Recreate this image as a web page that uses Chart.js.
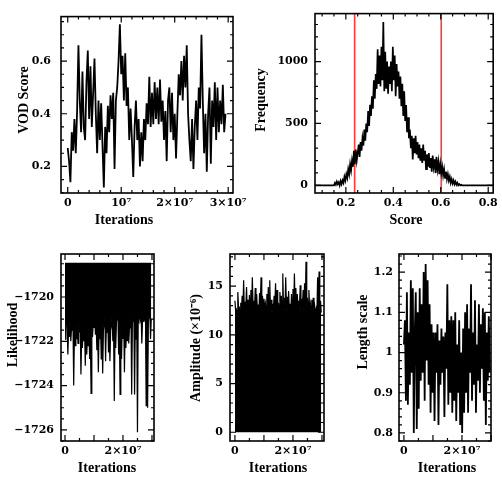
<!DOCTYPE html>
<html>
<head>
<meta charset="utf-8">
<script src="https://cdn.jsdelivr.net/npm/chart.js"></script>
<style>
html,body{margin:0;padding:0;background:#fff;}
#wrap{position:relative;width:502px;height:479px;background:#fff;overflow:hidden;}
canvas{position:absolute;}
</style>
</head>
<body>
<div id="wrap">
<canvas id="c1" width="251" height="240" style="left:0;top:0"></canvas>
<canvas id="c2" width="251" height="240" style="left:251px;top:0"></canvas>
<canvas id="c3" width="167" height="239" style="left:0;top:240px"></canvas>
<canvas id="c4" width="167" height="239" style="left:167px;top:240px"></canvas>
<canvas id="c5" width="168" height="239" style="left:334px;top:240px"></canvas>
</div>
<script>
// ---------- DATA ----------
// Panel 1: VOD score trace (iteration step 2.5e5)
const vodStep = 2.5e5;
const vodScore = [0.27,0.22,0.14,0.33,0.26,0.38,0.25,0.41,0.66,0.45,0.33,0.56,0.35,0.30,0.52,0.64,0.38,0.58,0.35,0.48,0.61,0.40,0.25,0.45,0.30,0.44,0.28,0.12,0.35,0.25,0.43,0.33,0.47,0.38,0.48,0.19,0.45,0.50,0.60,0.74,0.55,0.62,0.45,0.63,0.43,0.50,0.30,0.42,0.30,0.16,0.35,0.45,0.30,0.38,0.20,0.33,0.22,0.38,0.30,0.44,0.36,0.54,0.35,0.48,0.36,0.52,0.38,0.50,0.36,0.53,0.37,0.45,0.30,0.41,0.22,0.45,0.50,0.33,0.48,0.30,0.40,0.23,0.40,0.55,0.47,0.60,0.45,0.62,0.50,0.66,0.40,0.30,0.22,0.38,0.19,0.35,0.45,0.30,0.50,0.42,0.70,0.45,0.25,0.40,0.18,0.40,0.50,0.21,0.45,0.35,0.52,0.30,0.50,0.33,0.45,0.36,0.51,0.33,0.40];

// Panel 2: score histogram (bins start 0.150, width 0.004), zero outside
const histStart = 0.150, histStep = 0.004;
const histDomain = [0.07, 0.82];
const histCounts = [0,20,5,30,10, 25,0,35,10,40, 20,70,40,90,60, 130,90,170,120,200, 150,280,170,290,200,
 260,330,230,350,280, 380,320,450,360,500, 430,600,480,650,560, 720,620,850,700,900, 780,1100,820,1050,800,
 1120,850,1320,760,1080, 780,1000,740,960,820, 1000,760,1120,850,1050, 720,980,800,920,700,
 880,640,820,560,760, 520,650,430,550,380, 450,300,400,210,380, 260,400,250,350,220,
 330,200,300,180,330, 200,280,130,250,150, 260,140,220,110,240, 150,210,100,230,130,
 190,90,170,100,150, 80,130,60,110,50, 90,40,70,20,50, 15,40,10,30,5, 20,0,10,0,5, 0];
const credibleBounds = [0.237, 0.602];

// Panel 3: likelihood lower envelope (step 2.5e5), upper bound flat
const likStep = 2.5e5;
const likMax = -1718.45;
const likelihoodLow = [
-1721.9,-1721.2,-1720.7,-1721.5,-1722.6,-1721.3,-1721.8,-1721.0,-1722.0,-1721.4,-1721.5,-1721.1,-1724.0,-1721.6,-1722.2,-1721.3,-1721.9,-1721.5,-1722.1,-1721.2,
-1721.6,-1721.0,-1723.5,-1721.7,-1722.3,-1721.4,-1722.0,-1721.5,-1723.1,-1721.3,-1722.6,-1721.8,-1722.2,-1721.4,-1722.8,-1721.6,-1724.35,-1721.5,-1721.8,-1721.1,
-1721.4,-1720.9,-1721.7,-1721.2,-1722.4,-1721.3,-1723.4,-1721.6,-1721.9,-1721.2,-1722.8,-1721.4,-1723.45,-1721.5,-1721.2,-1720.8,-1722.9,-1721.3,-1721.6,-1721.0,
-1722.5,-1721.4,-1722.9,-1721.5,-1721.3,-1720.9,-1722.0,-1721.2,-1724.7,-1721.6,-1722.3,-1721.1,-1721.0,-1720.7,-1722.6,-1721.3,-1724.4,-1721.5,-1722.8,-1721.2,
-1721.9,-1721.0,-1723.4,-1721.4,-1722.3,-1721.2,-1722.0,-1721.1,-1722.1,-1721.3,-1721.4,-1720.8,-1724.4,-1721.0,-1721.1,-1720.7,-1724.4,-1721.1,-1721.9,-1720.9,
-1726.1,-1721.0,-1721.1,-1720.6,-1721.0,-1720.8,-1722.1,-1721.0,-1721.1,-1720.7,-1720.9,-1720.6,-1724.9,-1721.2,-1725.0,-1721.1,-1720.8,-1720.6,-1721.9,-1721.0];

// Panel 4: amplitude upper envelope (x1e-6), step 2.5e5, filled to 0
const ampStep = 2.5e5;
const amplitudeTop = [13.5,12.4,12.6,12.2,14.4,12.7,12.8,12.3,13.3,12.5,14.0,12.6,15.6,12.3,13.4,12.8,14.9,12.4,13.6,12.2,
14.1,12.7,14.6,12.5,15.9,12.9,13.5,12.3,14.8,12.6,14.2,12.4,13.1,12.2,14.3,12.8,15.9,12.5,14.0,12.3,
13.7,12.6,13.2,12.4,14.2,12.7,14.9,12.3,15.6,12.5,13.6,12.2,13.2,12.6,14.0,12.8,15.3,12.4,14.6,12.3,
13.3,12.5,14.4,12.7,14.0,12.2,16.3,12.6,13.8,12.4,15.9,12.8,13.9,12.3,14.5,12.5,13.2,12.2,14.2,12.6,
14.7,12.4,16.3,12.7,14.8,12.3,14.2,12.5,13.5,12.8,15.1,12.4,13.7,12.6,14.6,12.3,15.3,12.5,17.5,12.7,
13.8,12.2,14.6,12.6,13.2,12.4,13.6,12.8,13.8,12.3,12.9,12.1,12.6,12.0,15.9,12.4,16.5,12.5,13.5,12.3];

// Panel 5: length scale trace, step 3.4e5
const lsStep = 3.4e5;
const lengthScale = [1.02,1.08,0.88,1.15,0.87,1.05,0.92,1.18,0.95,1.16,0.80,1.05,1.15,0.81,1.10,0.86,1.16,0.93,1.12,0.95,1.20,0.88,1.22,0.98,1.18,0.92,1.12,0.85,1.07,0.90,1.05,0.83,1.05,0.95,1.07,0.82,1.03,0.92,1.06,0.95,1.04,0.84,1.05,0.96,1.17,0.87,1.08,0.90,1.09,0.85,1.08,0.88,1.10,0.83,1.02,0.90,1.08,0.82,1.00,0.80,1.06,0.85,1.10,0.90,1.12,0.85,1.06,0.95,1.17,0.88,1.05,0.92,1.13,0.85,1.02,0.93,1.12,0.90,1.07,0.96,1.11,0.88,1.10,0.82,1.05,0.93,1.09,0.95];

// Tick values / labels
const iterTicks3 = [0, 1e7, 2e7, 3e7];
const iterLabels3 = ['0', '10\u2077', '2\u00d710\u2077', '3\u00d710\u2077'];
const iterTicks2 = [0, 2e7];
const iterLabels2 = ['0', '2\u00d710\u2077'];
const vodTicks = [0.2, 0.4, 0.6];
const vodLabels = ['0.2', '0.4', '0.6'];
const scoreTicks = [0.2, 0.4, 0.6, 0.8];
const scoreLabels = ['0.2', '0.4', '0.6', '0.8'];
const freqTicks = [0, 500, 1000];
const freqLabels = ['0', '500', '1000'];
const likTicks = [-1726, -1724, -1722, -1720];
const likLabels = ['\u22121726', '\u22121724', '\u22121722', '\u22121720'];
const ampTicks = [0, 5, 10, 15];
const ampLabels = ['0', '5', '10', '15'];
const lsTicks = [0.8, 0.9, 1, 1.1, 1.2];
const lsLabels = ['0.8', '0.9', '1', '1.1', '1.2'];

// ---------- RENDERING ----------
const TICK_FONT = {family: 'DejaVu Serif', size: 11, weight: 'bold'};

const framePlugin = {
  id: 'frame',
  afterDatasetsDraw(chart, args, o) {
    const {ctx, chartArea: a, scales: {x, y}} = chart;
    ctx.save();
    ctx.strokeStyle = '#000';
    ctx.lineWidth = 1.6;
    ctx.strokeRect(a.left, a.top, a.right - a.left, a.bottom - a.top);
    ctx.lineWidth = 1.2;
    const marks = (scale, major, minor) => {
      const out = [];
      const n0 = Math.ceil(scale.min / minor - 1e-9), n1 = Math.floor(scale.max / minor + 1e-9);
      for (let n = n0; n <= n1; n++) {
        const v = n * minor;
        const r = v / major;
        const isMaj = Math.abs(r - Math.round(r)) < 1e-6;
        out.push([scale.getPixelForValue(v), isMaj ? o.majLen : o.minLen]);
      }
      return out;
    };
    ctx.beginPath();
    for (const [px, len] of marks(x, o.xMajor, o.xMinor)) {
      ctx.moveTo(px, a.bottom); ctx.lineTo(px, a.bottom - len);
      ctx.moveTo(px, a.top); ctx.lineTo(px, a.top + len);
    }
    for (const [py, len] of marks(y, o.yMajor, o.yMinor)) {
      ctx.moveTo(a.left, py); ctx.lineTo(a.left + len, py);
      ctx.moveTo(a.right, py); ctx.lineTo(a.right - len, py);
    }
    ctx.stroke();
    ctx.fillStyle = '#000';
    ctx.textAlign = 'center';
    ctx.textBaseline = 'middle';
    for (const t of o.titles) {
      ctx.save();
      ctx.font = 'bold ' + t.size + 'px "Liberation Serif"';
      ctx.translate(t.x, t.y);
      if (t.rot) ctx.rotate(-Math.PI / 2);
      ctx.fillText(t.text, 0, 0);
      ctx.restore();
    }
    ctx.restore();
  }
};

function panel(id, area, xs, ys, datasets, frame) {
  const cv = document.getElementById(id);
  const cw = cv.width, ch = cv.height;
  return new Chart(cv, {
    type: 'line',
    data: {datasets},
    options: {
      responsive: false, animation: false, devicePixelRatio: 1,
      layout: {padding: {left: 0, top: area.t, right: cw - area.r, bottom: 0}},
      plugins: {legend: {display: false}, tooltip: {enabled: false}, frame},
      elements: {point: {radius: 0}, line: {tension: 0, borderColor: '#000', borderWidth: 1.1}},
      scales: {
        x: {
          type: 'linear', min: xs.min, max: xs.max,
          grid: {display: false, drawTicks: false}, border: {display: false},
          ticks: {font: TICK_FONT, color: '#000', padding: xs.pad, maxRotation: 0, autoSkip: false,
                  callback: (v, i) => xs.labels[i]},
          afterBuildTicks: s => { s.ticks = xs.ticks.map(v => ({value: v})); },
          afterFit: s => { s.height = ch - area.b; }
        },
        y: {
          type: 'linear', min: ys.min, max: ys.max,
          grid: {display: false, drawTicks: false}, border: {display: false},
          ticks: {font: TICK_FONT, color: '#000', padding: ys.pad, autoSkip: false,
                  callback: (v, i) => ys.labels[i]},
          afterBuildTicks: s => { s.ticks = ys.ticks.map(v => ({value: v})); },
          afterFit: s => { s.width = area.l; }
        }
      }
    },
    plugins: [framePlugin]
  });
}

// Panel 1
panel('c1', {l: 61, r: 240, t: 7, b: 193},
  {min: -1.26e6, max: 3.09e7, ticks: iterTicks3, labels: iterLabels3, pad: 4},
  {min: 0.099, max: 0.769, ticks: vodTicks, labels: vodLabels, pad: 10},
  [{data: vodScore.map((v, i) => ({x: i * vodStep, y: v})), borderWidth: 1.8}],
  {xMajor: 1e7, xMinor: 2e6, yMajor: 0.2, yMinor: 0.05, majLen: 6, minLen: 3,
   titles: [{text: 'VOD Score', x: 24, y: 100, rot: true, size: 14},
            {text: 'Iterations', x: 124, y: 220, size: 14}]});

// Panel 2
const histData = [{x: histDomain[0], y: 0}]
  .concat(histCounts.map((c, i) => ({x: histStart + i * histStep, y: c})))
  .concat([{x: histDomain[1], y: 0}]);
panel('c2', {l: 64, r: 243, t: 6, b: 193},
  {min: 0.07, max: 0.821, ticks: scoreTicks, labels: scoreLabels, pad: 4},
  {min: -62, max: 1388, ticks: freqTicks, labels: freqLabels, pad: 7},
  [{data: histData, borderWidth: 1.7},
   ...credibleBounds.map(b => ({data: [{x: b, y: -62}, {x: b, y: 1388}], borderColor: '#ff3b3b', borderWidth: 1.6}))],
  {xMajor: 0.2, xMinor: 0.05, yMajor: 500, yMinor: 100, majLen: 6, minLen: 3,
   titles: [{text: 'Frequency', x: 10, y: 100, rot: true, size: 14},
            {text: 'Score', x: 155, y: 220, size: 14}]});

// Panel 3
panel('c3', {l: 61, r: 154, t: 14, b: 201},
  {min: -1.38e6, max: 3.07e7, ticks: iterTicks2, labels: iterLabels2, pad: 4},
  {min: -1726.5, max: -1718.06, ticks: likTicks, labels: likLabels, pad: 7},
  [{data: likelihoodLow.map((v, i) => ({x: i * likStep, y: v})), borderWidth: 1.2,
    fill: {value: likMax}, backgroundColor: '#000'}],
  {xMajor: 1e7, xMinor: 5e6, yMajor: 2, yMinor: 0.5, majLen: 6, minLen: 3,
   titles: [{text: 'Likelihood', x: 13, y: 95, rot: true, size: 14},
            {text: 'Iterations', x: 107, y: 228, size: 14}]});

// Panel 4
panel('c4', {l: 63, r: 157, t: 14, b: 201},
  {min: -1.7e6, max: 3.07e7, ticks: iterTicks2, labels: iterLabels2, pad: 4},
  {min: -0.9, max: 18.3, ticks: ampTicks, labels: ampLabels, pad: 7},
  [{data: amplitudeTop.map((v, i) => ({x: i * ampStep, y: v})), borderWidth: 1.2,
    fill: 'origin', backgroundColor: '#000'}],
  {xMajor: 1e7, xMinor: 5e6, yMajor: 5, yMinor: 1, majLen: 6, minLen: 3,
   titles: [{text: 'Amplitude (\u00d710\u207b\u2076)', x: 29, y: 108, rot: true, size: 14},
            {text: 'Iterations', x: 111, y: 228, size: 14}]});

// Panel 5
panel('c5', {l: 65, r: 157, t: 14, b: 201},
  {min: -1.7e6, max: 3.0e7, ticks: iterTicks2, labels: iterLabels2, pad: 4},
  {min: 0.78, max: 1.245, ticks: lsTicks, labels: lsLabels, pad: 6},
  [{data: lengthScale.map((v, i) => ({x: i * lsStep, y: v})), borderWidth: 1.8}],
  {xMajor: 1e7, xMinor: 5e6, yMajor: 0.1, yMinor: 0.02, majLen: 6, minLen: 3,
   titles: [{text: 'Length scale', x: 29, y: 92, rot: true, size: 14},
            {text: 'Iterations', x: 113, y: 228, size: 14}]});
</script>
</body>
</html>
